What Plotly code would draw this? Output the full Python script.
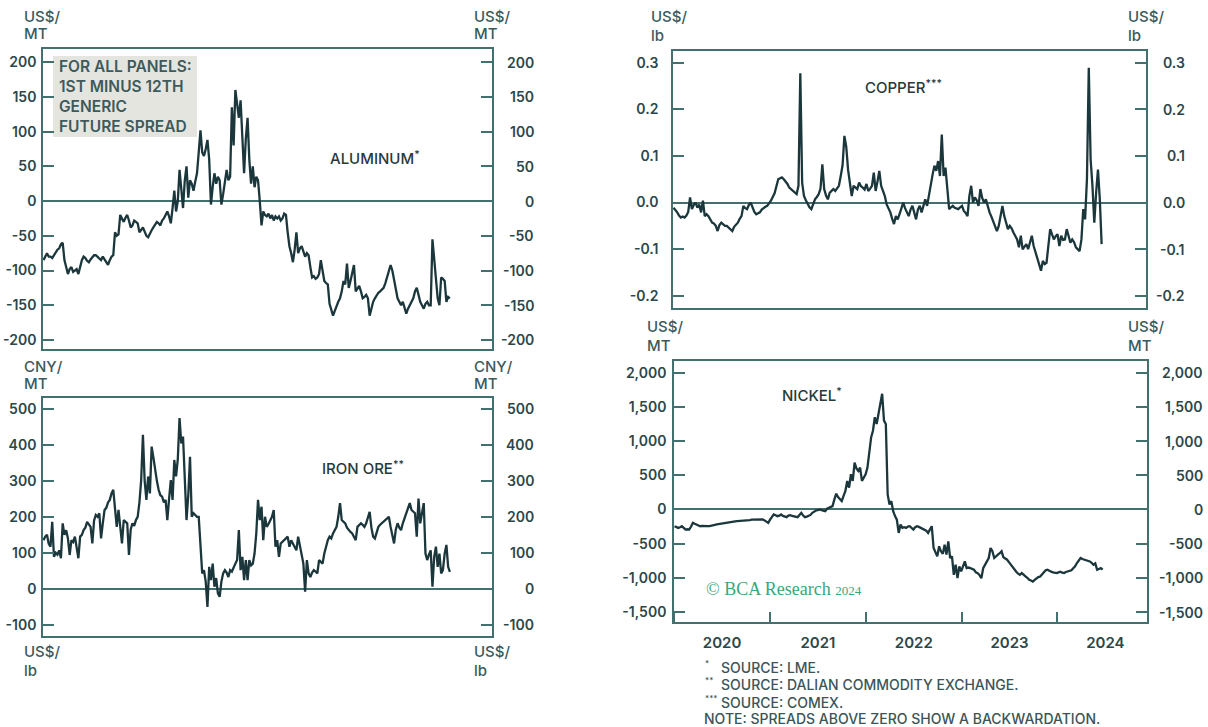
import pandas as pd
import plotly.graph_objects as go

W, H = 1208, 727

# Weekly observations of the 1st-minus-12th generic futures spread
week_ending = pd.date_range("2020-01-03", periods=234, freq="7D")

aluminum = [
    -85, -80, -75, -80, -80, -82, -78, -75, -70, -68,
    -62, -60, -85, -95, -105, -98, -95, -102, -100, -98,
    -105, -95, -85, -80, -82, -86, -88, -84, -80, -78,
    -78, -80, -83, -85, -80, -84, -88, -92, -85, -80,
    -78, -45, -50, -48, -20, -25, -30, -24, -20, -28,
    -38, -35, -28, -30, -32, -45, -42, -38, -44, -50,
    -52, -46, -42, -38, -33, -30, -32, -35, -28, -25,
    -20, -15, -22, -32, -10, 15, -15, 0, 45, 20,
    -10, 30, 50, 5, 30, 25, 15, 28, 40, 70,
    102, 70, 65, 75, 88, 60, -5, 20, 40, 25,
    35, 30, -5, 10, 25, 45, 30, 35, 135, 80,
    160, 140, 120, 145, 100, 40, 90, 120, 60, 25,
    50, 20, 35, 30, 0, -35, -15, -20, -22, -18,
    -25, -20, -28, -22, -25, -22, -28, -25, -18, -20,
    -45, -65, -75, -88, -70, -45, -75, -68, -65, -72,
    -80, -75, -78, -95, -110, -108, -112, -110, -105, -85,
    -100, -115, -118, -120, -148, -155, -165, -158, -150, -145,
    -140, -130, -115, -120, -90, -125, -115, -105, -92, -130,
    -125, -122, -130, -140, -138, -135, -140, -165, -155, -145,
    -140, -135, -132, -130, -128, -125, -118, -110, -100, -92,
    -100, -112, -125, -140, -145, -150, -145, -155, -162, -155,
    -150, -145, -140, -130, -125, -135, -145, -150, -155, -148,
    -145, -150, -150, -55, -80, -110, -140, -150, -110, -112,
    -115, -145, -138, -140,
]

iron_ore = [
    135, 145, 150, 125, 117, 186, 89, 100, 95, 107,
    85, 182, 150, 163, 140, 94, 135, 130, 145, 120,
    85, 145, 150, 163, 170, 186, 180, 172, 126, 190,
    205, 200, 210, 140, 182, 219, 225, 240, 247, 265,
    275, 228, 172, 219, 180, 126, 191, 185, 182, 94,
    165, 182, 175, 191, 200, 240, 302, 428, 300, 247,
    312, 265, 395, 365, 326, 300, 275, 260, 256, 240,
    247, 191, 250, 302, 247, 358, 312, 360, 474, 404,
    423, 302, 191, 260, 367, 200, 210, 205, 200, 200,
    135, 43, 52, 20, -50, 61, 24, 70, 6, 30,
    -13, -22, 20, 43, 52, 45, 33, 52, 48, 61,
    70, 80, 163, 52, 89, 24, 80, 24, 80, 65,
    70, 98, 154, 247, 191, 228, 135, 200, 172, 180,
    191, 200, 219, 117, 135, 89, 126, 130, 135, 140,
    145, 117, 135, 125, 117, 107, 145, 120, 98, 70,
    -8, 80, 43, 33, 45, 52, 48, 43, 80, 75,
    70, 98, 120, 135, 145, 140, 154, 165, 172, 200,
    238, 191, 185, 182, 170, 163, 158, 154, 145, 135,
    172, 178, 182, 178, 172, 182, 200, 214, 170, 145,
    140, 160, 172, 178, 182, 188, 191, 196, 200, 172,
    150, 126, 165, 182, 170, 163, 182, 195, 210, 225,
    238, 219, 215, 210, 145, 251, 182, 210, 238, 98,
    80, 95, 107, 6, 89, 117, 61, 98, 43, 52,
    98, 122, 61, 47,
]

copper = [
    -0.011, -0.015, -0.021, -0.028, -0.032, -0.030, -0.032, -0.028, -0.020, 0.011,
    -0.014, -0.005, 0.000, -0.011, -0.004, -0.021, 0.004, -0.029, -0.025, -0.029,
    -0.035, -0.043, -0.045, -0.050, -0.061, -0.048, -0.043, -0.046, -0.050, -0.050,
    -0.053, -0.057, -0.061, -0.052, -0.048, -0.043, -0.035, -0.029, -0.007, -0.012,
    -0.014, -0.005, 0.000, -0.011, -0.020, -0.025, -0.022, -0.021, -0.015, -0.011,
    -0.009, -0.007, -0.002, 0.004, 0.012, 0.020, 0.035, 0.050, 0.052, 0.054,
    0.050, 0.046, 0.040, 0.032, 0.028, 0.025, 0.020, 0.018, 0.036, 0.277,
    0.043, 0.014, 0.005, -0.004, -0.010, -0.014, -0.002, 0.007, 0.012, 0.018,
    0.030, 0.082, 0.029, 0.015, 0.007, 0.021, 0.025, 0.029, 0.025, 0.030,
    0.036, 0.057, 0.080, 0.143, 0.120, 0.070, 0.046, 0.014, 0.036, 0.032,
    0.029, 0.043, 0.035, 0.032, 0.028, 0.040, 0.025, 0.030, 0.036, 0.064,
    0.025, 0.045, 0.068, 0.036, 0.025, 0.014, -0.004, -0.012, -0.021, -0.035,
    -0.046, -0.029, -0.036, -0.025, -0.014, 0.000, -0.012, -0.021, -0.029, -0.015,
    -0.007, -0.021, -0.036, -0.015, -0.007, -0.021, -0.005, 0.007, -0.007, 0.018,
    0.043, 0.060, 0.079, 0.068, 0.089, 0.057, 0.146, 0.057, 0.075, 0.036,
    -0.014, -0.010, -0.007, -0.011, -0.012, -0.014, -0.010, -0.007, -0.018, -0.022,
    -0.029, 0.014, 0.036, 0.000, 0.011, 0.005, -0.007, 0.029, 0.010, 0.000,
    0.007, -0.010, -0.021, -0.030, -0.039, -0.050, -0.061, -0.050, -0.029, -0.007,
    -0.029, -0.045, -0.057, -0.050, -0.055, -0.064, -0.072, -0.079, -0.096, -0.071,
    -0.100, -0.093, -0.089, -0.100, -0.085, -0.071, -0.093, -0.107, -0.120, -0.136,
    -0.146, -0.125, -0.132, -0.129, -0.086, -0.057, -0.068, -0.079, -0.072, -0.068,
    -0.093, -0.071, -0.080, -0.079, -0.057, -0.075, -0.086, -0.079, -0.085, -0.096,
    -0.100, -0.104, -0.079, -0.014, -0.036, 0.050, 0.289, 0.093, 0.036, -0.043,
    0.021, 0.071, 0.007, -0.089,
]

nickel = [
    -245, -255, -270, -260, -245, -270, -294, -290, -294, -250,
    -196, -210, -220, -225, -245, -240, -245, -240, -245, -245,
    -235, -230, -225, -220, -215, -205, -200, -196, -190, -185,
    -185, -181, -178, -175, -172, -171, -170, -165, -162, -160,
    -158, -155, -150, -148, -147, -150, -150, -147, -147, -160,
    -175, -196, -150, -100, -73, -85, -98, -90, -73, -95,
    -110, -113, -90, -83, -95, -98, -105, -113, -80, -49,
    -90, -113, -105, -98, -80, -49, -30, -15, -10, 0,
    -10, -20, -25, 10, 25, 40, 49, 147, 230, 180,
    147, 122, 200, 270, 417, 319, 515, 417, 686, 600,
    564, 612, 417, 466, 515, 612, 858, 1054, 1152, 1348,
    1250, 1397, 1544, 1691, 1299, 1250, 220, 73, 122, -25,
    -98, -150, -343, -220, -270, -260, -270, -250, -245, -270,
    -294, -260, -245, -255, -270, -280, -294, -310, -343, -300,
    -245, -564, -620, -686, -539, -612, -650, -515, -661, -466,
    -710, -686, -956, -809, -1005, -833, -907, -820, -760, -858,
    -850, -858, -870, -882, -920, -931, -960, -1005, -858, -809,
    -750, -710, -564, -612, -710, -680, -662, -640, -612, -700,
    -715, -735, -770, -809, -840, -882, -910, -940, -956, -930,
    -960, -980, -1000, -1029, -1040, -1054, -1030, -1005, -990, -980,
    -950, -907, -890, -882, -900, -910, -920, -925, -931, -920,
    -910, -925, -931, -915, -907, -900, -890, -860, -833, -784,
    -750, -710, -725, -735, -740, -745, -760, -780, -809, -790,
    -882, -870, -858, -880,
]

alu_ticks = [-200, -150, -100, -50, 0, 50, 100, 150, 200]
alu_text = ["-200", "-150", "-100", "-50", "0", "50", "100", "150", "200"]
iron_ticks = [-100, 0, 100, 200, 300, 400, 500]
iron_text = ["-100", "0", "100", "200", "300", "400", "500"]
copper_ticks = [-0.2, -0.1, 0.0, 0.1, 0.2, 0.3]
copper_text = ["-0.2", "-0.1", "0.0", "0.1", "0.2", "0.3"]
nickel_ticks = [-1500, -1000, -500, 0, 500, 1000, 1500, 2000]
nickel_text = ["-1,500", "-1,000", "-500", "0", "500", "1,000", "1,500", "2,000"]

LINE = "#1b373c"
FRAME = "#42706f"
TICK_TXT = "#2b474a"
UNIT_TXT = "#3b5a5d"
FONT = "Inter, 'Noto Sans', sans-serif"
X_RANGE = ["2020-01-01", "2024-12-07"]


def fx(px):
    return px / W


def fy(py):
    return 1 - py / H


tick_font = dict(family=FONT, size=14, color=TICK_TXT, weight=600)

panels = [
    dict(key="", values=aluminum, box=(43, 492, 49, 349), yrange=(-213, 219),
         ticks=alu_ticks, text=alu_text, right_x=536, standoff=2),
    dict(key="2", values=iron_ore, box=(43, 492, 398, 636), yrange=(-131, 530),
         ticks=iron_ticks, text=iron_text, right_x=536, standoff=2),
    dict(key="3", values=copper, box=(673, 1146, 51, 308), yrange=(-0.226, 0.325),
         ticks=copper_ticks, text=copper_text, right_x=1187, standoff=10),
    dict(key="4", values=nickel, box=(674, 1147, 361, 622), yrange=(-1646, 2171),
         ticks=nickel_ticks, text=nickel_text, right_x=1205, standoff=3),
]

fig = go.Figure()
layout = dict(
    width=W, height=H, margin=dict(l=0, r=0, t=0, b=0),
    paper_bgcolor="white", plot_bgcolor="white", showlegend=False,
)
annotations = []

for p in panels:
    k = p["key"]
    x0, x1, y0, y1 = p["box"]
    fig.add_trace(go.Scatter(
        x=week_ending, y=p["values"], mode="lines",
        line=dict(color=LINE, width=2.3),
        xaxis="x" + k, yaxis="y" + k, hoverinfo="skip",
    ))
    layout["xaxis" + k] = dict(
        domain=[fx(x0), fx(x1)], anchor="y" + k, type="date", range=X_RANGE,
        showline=True, mirror=True, linecolor=FRAME, linewidth=1.6,
        showgrid=False, zeroline=False, ticks="", showticklabels=False,
    )
    layout["yaxis" + k] = dict(
        domain=[fy(y1), fy(y0)], anchor="x" + k, range=list(p["yrange"]),
        showline=True, mirror="ticks", linecolor=FRAME, linewidth=1.6,
        ticks="inside", ticklen=11, tickwidth=1.6, tickcolor=FRAME,
        tickmode="array", tickvals=p["ticks"], ticktext=p["text"],
        tickfont=tick_font, ticklabelstandoff=p["standoff"],
        showgrid=False, zeroline=True, zerolinecolor=FRAME, zerolinewidth=1.8,
    )
    # right-hand scale labels, right aligned
    for v, t in zip(p["ticks"], p["text"]):
        annotations.append(dict(
            x=fx(p["right_x"]), xref="paper", y=v, yref="y" + k,
            xanchor="right", yanchor="middle", text=t, showarrow=False,
            font=tick_font,
        ))

# calendar axis under the nickel panel
layout["xaxis4"].update(
    ticks="inside", ticklen=10, tickwidth=2, tickcolor=FRAME,
    tickmode="linear", tick0="2020-01-01", dtick="M12",
    ticklabelmode="period", tickformat="%Y", showticklabels=True,
    tickfont=dict(family=FONT, size=15, color=TICK_TXT, weight=600),
    ticklabelstandoff=6,
)

unit_font = dict(family=FONT, size=15, color=UNIT_TXT, weight=500)
unit_labels = [
    (22, 16, "US$/"), (22, 34, "MT"), (472, 16, "US$/"), (472, 34, "MT"),
    (22, 366, "CNY/"), (22, 384, "MT"), (472, 366, "CNY/"), (472, 384, "MT"),
    (22, 651, "US$/"), (22, 670, "lb"), (472, 651, "US$/"), (472, 670, "lb"),
    (649, 17, "US$/"), (649, 36, "lb"), (1126, 17, "US$/"), (1126, 36, "lb"),
    (645, 327, "US$/"), (645, 345, "MT"), (1126, 327, "US$/"), (1126, 345, "MT"),
]
for x, y, t in unit_labels:
    annotations.append(dict(
        x=fx(x), y=fy(y), xref="paper", yref="paper", xanchor="left",
        yanchor="middle", text=t, showarrow=False, font=unit_font,
    ))

title_font = dict(family=FONT, size=15, color="#26393b", weight=500)
titles = [
    (328, 158, "ALUMINUM<sup>*</sup>"),
    (320, 468, "IRON ORE<sup>**</sup>"),
    (863, 87, "COPPER<sup>***</sup>"),
    (780, 395, "NICKEL<sup>*</sup>"),
]
for x, y, t in titles:
    annotations.append(dict(
        x=fx(x), y=fy(y), xref="paper", yref="paper", xanchor="left",
        yanchor="middle", text=t, showarrow=False, font=title_font,
    ))

# shaded note box in the aluminum panel
fig.add_shape(type="rect", xref="paper", yref="paper",
              x0=fx(53), x1=fx(197), y0=fy(137), y1=fy(56),
              fillcolor="#e5e5df", line=dict(width=0), layer="below")
annotations.append(dict(
    x=fx(57), y=fy(97), xref="paper", yref="paper", xanchor="left",
    yanchor="middle", align="left", showarrow=False,
    text="FOR ALL PANELS:<br>1ST MINUS 12TH<br>GENERIC<br>FUTURE SPREAD",
    font=dict(family=FONT, size=15.5, color="#3d5a5c", weight=600),
))

# copyright mark
annotations.append(dict(
    x=fx(704), y=fy(589), xref="paper", yref="paper", xanchor="left",
    yanchor="middle", showarrow=False,
    text="© BCA Research <span style='font-size:13px'>2024</span>",
    font=dict(family="'Liberation Serif', 'DejaVu Serif', serif", size=18,
              color="#3aa67c"),
))

# footnotes
note_font = dict(family=FONT, size=14, color="#3b5557", weight=500)
star_font = dict(family=FONT, size=8, color="#3b5557", weight=500)
notes = [
    (667, "*", "SOURCE: LME."),
    (684, "**", "SOURCE: DALIAN COMMODITY EXCHANGE."),
    (702, "***", "SOURCE: COMEX."),
]
for y, star, t in notes:
    annotations.append(dict(
        x=fx(703), y=fy(y - 4), xref="paper", yref="paper", xanchor="left",
        yanchor="middle", text=star, showarrow=False, font=star_font,
    ))
    annotations.append(dict(
        x=fx(719), y=fy(y), xref="paper", yref="paper", xanchor="left",
        yanchor="middle", text=t, showarrow=False, font=note_font,
    ))
annotations.append(dict(
    x=fx(702), y=fy(718), xref="paper", yref="paper", xanchor="left",
    yanchor="middle", text="NOTE: SPREADS ABOVE ZERO SHOW A BACKWARDATION.",
    showarrow=False, font=note_font,
))

layout["annotations"] = annotations
fig.update_layout(**layout)
fig.write_html("out.html")
